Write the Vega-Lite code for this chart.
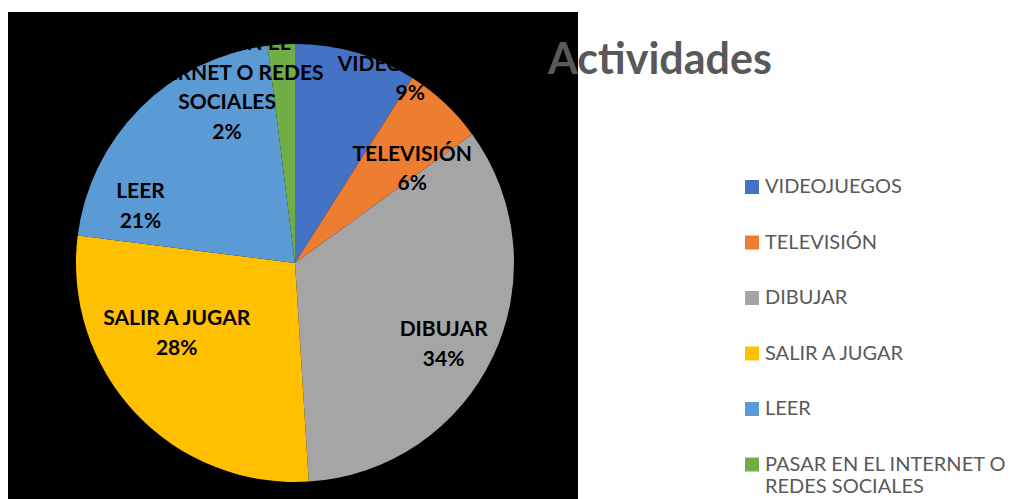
{
  "$schema": "https://vega.github.io/schema/vega-lite/v6.json",
  "width": 570,
  "height": 487,
  "autosize": {"type": "none"},
  "padding": {"left": 8, "top": 12, "right": 458, "bottom": 0},
  "background": "#ffffff",
  "view": {"fill": "#000000", "stroke": null},
  "title": {
    "text": "Actividades",
    "anchor": "start",
    "frame": "group",
    "orient": "top",
    "offset": 0,
    "baseline": "alphabetic",
    "dx": 540,
    "dy": 105,
    "font": "Lato",
    "fontSize": 43,
    "fontWeight": "bold",
    "color": "#595959"
  },
  "config": {
    "text": {
      "font": "Lato",
      "fontSize": 21,
      "fontWeight": "bold",
      "fill": "#000000",
      "lineBreak": "\n",
      "lineHeight": 29.5
    }
  },
  "data": {
    "values": [
      {"orden": 1, "actividad": "VIDEOJUEGOS", "etiqueta": "VIDEOJUEGOS", "porcentaje": 9},
      {"orden": 2, "actividad": "TELEVISIÓN", "etiqueta": "TELEVISIÓN", "porcentaje": 6},
      {"orden": 3, "actividad": "DIBUJAR", "etiqueta": "DIBUJAR", "porcentaje": 34},
      {"orden": 4, "actividad": "SALIR A JUGAR", "etiqueta": "SALIR A JUGAR", "porcentaje": 28},
      {"orden": 5, "actividad": "LEER", "etiqueta": "LEER", "porcentaje": 21},
      {"orden": 6, "actividad": "PASAR EN EL INTERNET O REDES SOCIALES", "etiqueta": "PASAR EN EL\nINTERNET O REDES\nSOCIALES", "porcentaje": 2}
    ]
  },
  "transform": [
    {"stack": "porcentaje", "groupby": [], "sort": [{"field": "orden", "order": "ascending"}], "as": ["ini", "fin"]},
    {"calculate": "(datum.ini + datum.fin) / 2", "as": "medio"},
    {"calculate": "datum.etiqueta + '\\n' + datum.porcentaje + '%'", "as": "rotulo"}
  ],
  "layer": [
    {
      "mark": {"type": "arc", "outerRadius": 219, "xOffset": 2, "yOffset": 7.5},
      "encoding": {
        "theta": {"field": "ini", "type": "quantitative", "scale": {"domain": [0, 100]}},
        "theta2": {"field": "fin"},
        "color": {
          "field": "actividad",
          "type": "nominal",
          "sort": null,
          "scale": {
            "domain": ["VIDEOJUEGOS", "TELEVISIÓN", "DIBUJAR", "SALIR A JUGAR", "LEER", "PASAR EN EL INTERNET O REDES SOCIALES"],
            "range": ["#4472C4", "#ED7D31", "#A5A5A5", "#FFC000", "#5B9BD5", "#70AD47"]
          },
          "legend": {
            "orient": "none",
            "legendX": 734,
            "legendY": 165,
            "title": null,
            "padding": 0,
            "symbolType": "square",
            "symbolSize": 196,
            "symbolStrokeWidth": 0,
            "labelFont": "Lato",
            "labelFontSize": 20,
            "labelColor": "#595959",
            "labelOffset": 3,
            "labelLimit": 400,
            "rowPadding": 35.5,
            "labelExpr": "datum.label == 'PASAR EN EL INTERNET O REDES SOCIALES' ? ['PASAR EN EL INTERNET O', 'REDES SOCIALES'] : datum.label"
          }
        }
      }
    },
    {
      "transform": [{"filter": "datum.actividad == 'VIDEOJUEGOS'"}],
      "mark": {"type": "text", "radius": 218, "thetaOffset": 0.274, "xOffset": 2, "yOffset": -5.5},
      "encoding": {
        "theta": {"field": "medio", "type": "quantitative", "scale": {"domain": [0, 100]}},
        "text": {"field": "rotulo", "type": "nominal"}
      }
    },
    {
      "transform": [{"filter": "datum.actividad == 'TELEVISIÓN'"}],
      "mark": {"type": "text", "radius": 151, "thetaOffset": 0.134, "xOffset": 2, "yOffset": -5.5},
      "encoding": {
        "theta": {"field": "medio", "type": "quantitative", "scale": {"domain": [0, 100]}},
        "text": {"field": "rotulo", "type": "nominal"}
      }
    },
    {
      "transform": [{"filter": "datum.actividad == 'DIBUJAR'"}],
      "mark": {"type": "text", "radius": 169, "thetaOffset": 0.056, "xOffset": 2, "yOffset": -5.5},
      "encoding": {
        "theta": {"field": "medio", "type": "quantitative", "scale": {"domain": [0, 100]}},
        "text": {"field": "rotulo", "type": "nominal"}
      }
    },
    {
      "transform": [{"filter": "datum.actividad == 'SALIR A JUGAR'"}],
      "mark": {"type": "text", "radius": 137, "thetaOffset": 0.225, "xOffset": 2, "yOffset": -5.5},
      "encoding": {
        "theta": {"field": "medio", "type": "quantitative", "scale": {"domain": [0, 100]}},
        "text": {"field": "rotulo", "type": "nominal"}
      }
    },
    {
      "transform": [{"filter": "datum.actividad == 'LEER'"}],
      "mark": {"type": "text", "radius": 165, "thetaOffset": -0.428, "xOffset": 2, "yOffset": -5.5},
      "encoding": {
        "theta": {"field": "medio", "type": "quantitative", "scale": {"domain": [0, 100]}},
        "text": {"field": "rotulo", "type": "nominal"}
      }
    },
    {
      "transform": [{"filter": "datum.actividad == 'PASAR EN EL INTERNET O REDES SOCIALES'"}],
      "mark": {"type": "text", "radius": 188, "thetaOffset": -0.307, "xOffset": 2, "yOffset": -36},
      "encoding": {
        "theta": {"field": "medio", "type": "quantitative", "scale": {"domain": [0, 100]}},
        "text": {"field": "rotulo", "type": "nominal"}
      }
    }
  ]
}
